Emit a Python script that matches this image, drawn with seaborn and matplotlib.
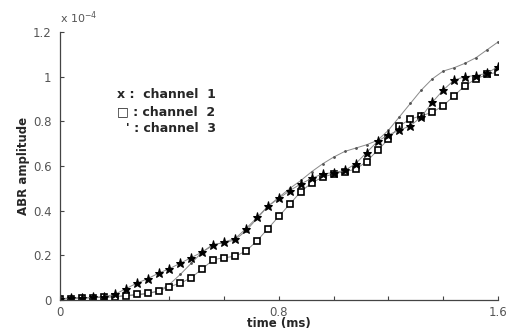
import numpy as np
import pandas as pd
import matplotlib
matplotlib.use("Agg")
import matplotlib.pyplot as plt
import seaborn as sns

# time axis (ms), one sample every 0.04 ms
time_ms = [round(0.04 * i, 2) for i in range(41)]

# ABR amplitude in units of 1e-4
channel_1 = [0.005, 0.010, 0.010, 0.012, 0.015, 0.025, 0.050, 0.075, 0.095, 0.120,
             0.140, 0.165, 0.190, 0.215, 0.245, 0.260, 0.275, 0.320, 0.370, 0.420,
             0.455, 0.490, 0.520, 0.545, 0.565, 0.570, 0.580, 0.610, 0.660, 0.710,
             0.740, 0.760, 0.780, 0.820, 0.885, 0.940, 0.985, 1.000, 1.005, 1.015,
             1.045]
channel_2 = [0.004, 0.005, 0.008, 0.010, 0.012, 0.015, 0.020, 0.025, 0.030, 0.040,
             0.060, 0.075, 0.100, 0.140, 0.180, 0.190, 0.195, 0.220, 0.265, 0.320,
             0.375, 0.430, 0.485, 0.525, 0.550, 0.565, 0.575, 0.585, 0.620, 0.670,
             0.720, 0.780, 0.810, 0.825, 0.840, 0.870, 0.915, 0.960, 0.990, 1.010,
             1.020]
channel_3 = [0.005, 0.008, 0.010, 0.010, 0.012, 0.015, 0.018, 0.022, 0.028, 0.040,
             0.070, 0.115, 0.165, 0.215, 0.250, 0.255, 0.270, 0.310, 0.365, 0.420,
             0.460, 0.500, 0.535, 0.575, 0.610, 0.640, 0.665, 0.680, 0.695, 0.715,
             0.760, 0.820, 0.880, 0.940, 0.990, 1.025, 1.040, 1.060, 1.085, 1.120,
             1.155]

x_ticks = [0, 0.2, 0.4, 0.6, 0.8, 1.0, 1.2, 1.4, 1.6]
x_tick_labels = ["0", "", "", "", "0.8", "", "", "", "1.6"]
y_ticks = [0, 0.2, 0.4, 0.6, 0.8, 1.0, 1.2]
y_tick_labels = ["0", "0.2", "0.4", "0.6", "0.8", "1", "1.2"]
legend_lines = ["x :  channel  1", "□ : channel  2", "  ' : channel  3"]

sns.set_style("ticks")
plt.rcParams["font.family"] = ["DejaVu Sans"]

fig = plt.figure(figsize=(5.10, 3.31), dpi=100)
ax = fig.add_axes([0.1176, 0.0937, 0.8588, 0.8097])

line_kw = dict(color="#8a8a8a", linewidth=0.7, ax=ax, legend=False)
sns.lineplot(x=time_ms, y=channel_3, marker=".", markersize=2.5,
             markerfacecolor="#555555", markeredgecolor="#555555", **line_kw)
sns.lineplot(x=time_ms, y=channel_2, marker="s", markersize=4.5,
             markerfacecolor="white", markeredgecolor="black",
             markeredgewidth=1.2, **line_kw)
sns.lineplot(x=time_ms, y=channel_1, marker="*", markersize=6.5,
             markerfacecolor="black", markeredgecolor="black", **line_kw)

ax.set_xlim(0, 1.6)
ax.set_ylim(0, 1.2)
ax.set_xticks(x_ticks)
ax.set_xticklabels(x_tick_labels)
ax.set_yticks(y_ticks)
ax.set_yticklabels(y_tick_labels)
ax.tick_params(direction="in", length=3, width=0.8, colors="#444444",
               labelsize=8.5, labelcolor="#555555")
ax.tick_params(axis="y", pad=6)
ax.tick_params(axis="x", pad=4)
sns.despine(ax=ax)
for side in ("left", "bottom"):
    ax.spines[side].set_color("#444444")
    ax.spines[side].set_linewidth(0.9)

ax.set_xlabel("time (ms)", fontsize=8.5, fontweight="bold", labelpad=-1)
ax.set_ylabel("ABR amplitude", fontsize=8.5, fontweight="bold", labelpad=2)
fig.text(60 / 510, 1 - 18 / 331, "x 10$^{-4}$", fontsize=8, color="#555555",
         va="center", ha="left")

for i, txt in enumerate(legend_lines):
    fig.text(117 / 510, 1 - (95 + 17 * i) / 331, txt, fontsize=9,
             fontweight="bold", va="center", ha="left")

fig.savefig("out.png", dpi=100)
